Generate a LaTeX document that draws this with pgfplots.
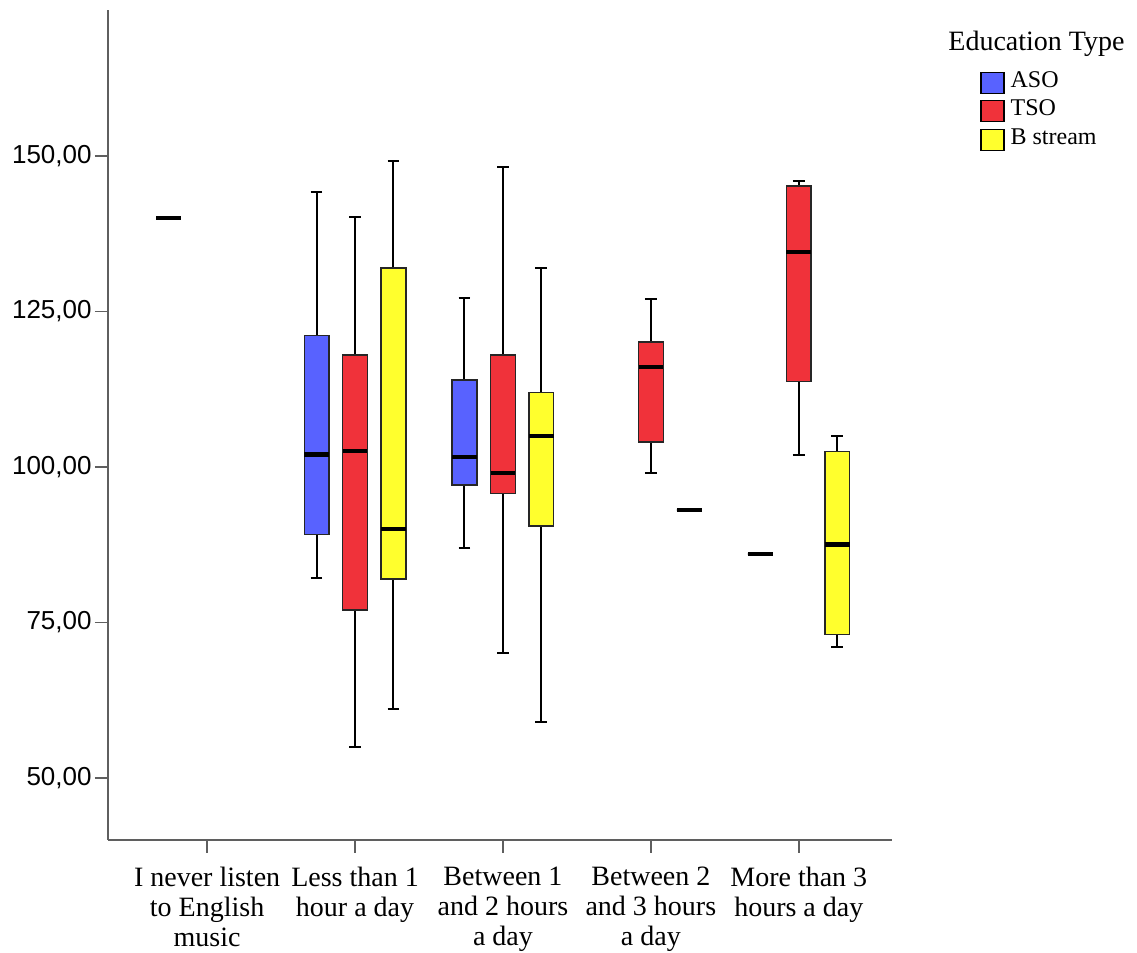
\documentclass[border=0pt]{standalone}
\usepackage{pgfplots}
\pgfplotsset{compat=1.18}
\usepgfplotslibrary{statistics}
\usepackage{fontspec}
\setmainfont{Liberation Serif}
\newfontfamily\tickfont{Liberation Sans}
\definecolor{aso}{RGB}{88,98,255}
\definecolor{tso}{RGB}{240,50,58}
\definecolor{bst}{RGB}{255,255,45}
\definecolor{axgray}{RGB}{95,95,95}
\begin{document}
\begin{tikzpicture}
\path[use as bounding box] (-54pt,-56.5pt) rectangle (514.5pt,420pt);
\begin{axis}[
  scale only axis,
  width=392pt, height=415pt,
  at={(0,0)}, anchor=south west,
  xmin=-0.67, xmax=4.63,
  ymin=40, ymax=173.5,
  axis lines=left,
  axis line style={-, draw=axgray, line width=0.8pt},
  tick align=outside,
  major tick length=6.5pt,
  tick style={draw=axgray, line width=0.8pt},
  xtick={0,1,2,3,4},
  xticklabels={{I never listen\\to English\\music},{Less than 1\\hour a day},{Between 1\\and 2 hours\\a day},{Between 2\\and 3 hours\\a day},{More than 3\\hours a day}},
  xticklabel style={align=center, font=\fontsize{14}{15}\selectfont, inner sep=3pt, yshift=-4pt},
  ytick={50,75,100,125,150},
  yticklabels={{50,00},{75,00},{100,00},{125,00},{150,00}},
  yticklabel style={font=\tickfont\fontsize{13}{13}\selectfont, inner xsep=1.5pt},
  clip=false,
  boxplot/draw direction=y,
  boxplot/every box/.style={draw=black!85, line width=0.7pt},
  boxplot/every whisker/.style={draw=black, line width=1pt},
  boxplot/every median/.style={draw=black, line width=2.2pt},
  legend style={at={(rel axis cs:1.112,0.93)}, anchor=north west, draw=none, fill=none,
    inner sep=0pt, row sep=0pt,
    nodes={inner ysep=0pt, inner xsep=3pt, text height=9.5pt, text depth=4.75pt, font=\fontsize{12}{14}\selectfont}},
  legend cell align=left,
  legend image code/.code={\draw[#1, draw=black, line width=0.7pt] (0pt,-5.25pt) rectangle (11.5pt,5.25pt);},
]
% category 0
\addplot[forget plot, fill=aso, boxplot prepared={draw position=-0.26, lower whisker=140, lower quartile=140, median=140, upper quartile=140, upper whisker=140, box extend=0.167, whisker extend=0.08}] coordinates {};
% category 1
\addplot[forget plot, fill=aso, boxplot prepared={draw position=0.74, lower whisker=82.1, lower quartile=89.1, median=102, upper quartile=121.1, upper whisker=144.2, box extend=0.167, whisker extend=0.08}] coordinates {};
\addplot[forget plot, fill=tso, boxplot prepared={draw position=1, lower whisker=55, lower quartile=77, median=102.6, upper quartile=118, upper whisker=140.2, box extend=0.167, whisker extend=0.08}] coordinates {};
\addplot[forget plot, fill=bst, boxplot prepared={draw position=1.26, lower whisker=61, lower quartile=82, median=90, upper quartile=132, upper whisker=149.2, box extend=0.167, whisker extend=0.08}] coordinates {};
% category 2
\addplot[forget plot, fill=aso, boxplot prepared={draw position=1.74, lower whisker=86.9, lower quartile=97.1, median=101.6, upper quartile=114, upper whisker=127.2, box extend=0.167, whisker extend=0.08}] coordinates {};
\addplot[forget plot, fill=tso, boxplot prepared={draw position=2, lower whisker=70, lower quartile=95.7, median=99, upper quartile=118, upper whisker=148.2, box extend=0.167, whisker extend=0.08}] coordinates {};
\addplot[forget plot, fill=bst, boxplot prepared={draw position=2.26, lower whisker=59, lower quartile=90.5, median=105, upper quartile=112, upper whisker=132, box extend=0.167, whisker extend=0.08}] coordinates {};
% category 3
\addplot[forget plot, fill=tso, boxplot prepared={draw position=3, lower whisker=99, lower quartile=104, median=116.1, upper quartile=120.1, upper whisker=127, box extend=0.167, whisker extend=0.08}] coordinates {};
\addplot[forget plot, fill=bst, boxplot prepared={draw position=3.26, lower whisker=93.1, lower quartile=93.1, median=93.1, upper quartile=93.1, upper whisker=93.1, box extend=0.167, whisker extend=0.08}] coordinates {};
% category 4
\addplot[forget plot, fill=aso, boxplot prepared={draw position=3.74, lower whisker=86, lower quartile=86, median=86, upper quartile=86, upper whisker=86, box extend=0.167, whisker extend=0.08}] coordinates {};
\addplot[forget plot, fill=tso, boxplot prepared={draw position=4, lower whisker=102, lower quartile=113.7, median=134.6, upper quartile=145.2, upper whisker=146, box extend=0.167, whisker extend=0.08}] coordinates {};
\addplot[forget plot, fill=bst, boxplot prepared={draw position=4.26, lower whisker=71, lower quartile=73.1, median=87.5, upper quartile=102.5, upper whisker=105, box extend=0.167, whisker extend=0.08}] coordinates {};
\addlegendimage{fill=aso}
\addlegendentry{ASO}
\addlegendimage{fill=tso}
\addlegendentry{TSO}
\addlegendimage{fill=bst}
\addlegendentry{B stream}
\end{axis}
\node[anchor=west, inner sep=0pt, font=\fontsize{14}{14}\selectfont] at (420pt,398pt) {Education Type};
\end{tikzpicture}
\end{document}
